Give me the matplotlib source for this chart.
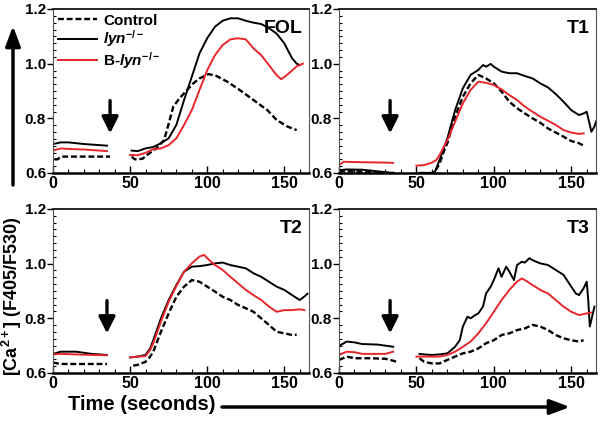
import numpy as np
import matplotlib
matplotlib.use('Agg')
import matplotlib.pyplot as plt
import matplotlib.ticker as ticker

nan = np.nan

# FOL panel
fol_ctrl_t = [1, 3, 5, 10, 20, 30, 37, nan, 51, 53, 58, 61, 67, 72, 75, 78, 82, 87, 91, 95, 101, 106, 113, 121, 130, 139, 145, 152, 158]
fol_ctrl_v = [0.65, 0.65, 0.66, 0.66, 0.66, 0.66, 0.66, nan, 0.66, 0.65, 0.652, 0.666, 0.69, 0.72, 0.78, 0.843, 0.873, 0.904, 0.928, 0.946, 0.962, 0.955, 0.934, 0.904, 0.867, 0.83, 0.794, 0.77, 0.757]
fol_lyn_t = [0, 5, 10, 20, 30, 35, nan, 51, 55, 60, 65, 70, 75, 80, 85, 90, 95, 100, 105, 110, 115, 120, 125, 130, 135, 140, 145, 150, 155, 158, 160]
fol_lyn_v = [0.706, 0.712, 0.712, 0.706, 0.702, 0.70, nan, 0.682, 0.68, 0.69, 0.695, 0.709, 0.727, 0.776, 0.867, 0.952, 1.038, 1.093, 1.135, 1.157, 1.166, 1.166, 1.157, 1.15, 1.145, 1.13, 1.11, 1.074, 1.02, 1.0, 0.995]
fol_blyn_t = [0, 5, 10, 20, 30, 35, nan, 50, 55, 60, 65, 70, 75, 80, 85, 90, 95, 100, 105, 110, 115, 120, 125, 130, 135, 140, 145, 148, 152, 155, 158, 162]
fol_blyn_v = [0.682, 0.69, 0.688, 0.686, 0.682, 0.68, nan, 0.666, 0.665, 0.674, 0.687, 0.69, 0.702, 0.727, 0.776, 0.83, 0.904, 0.976, 1.031, 1.068, 1.089, 1.093, 1.089, 1.056, 1.031, 0.995, 0.958, 0.943, 0.96, 0.975, 0.99, 1.0]

# T1 panel
t1_ctrl_t = [0, 10, 20, 30, 36, nan, 52, 60, 62, 65, 68, 70, 75, 80, 85, 90, 95, 100, 105, 110, 115, 120, 125, 130, 135, 140, 145, 150, 155, 158]
t1_ctrl_v = [0.606, 0.606, 0.604, 0.601, 0.60, nan, 0.60, 0.60, 0.605, 0.635, 0.684, 0.709, 0.806, 0.879, 0.928, 0.959, 0.946, 0.928, 0.898, 0.861, 0.837, 0.818, 0.80, 0.784, 0.763, 0.748, 0.733, 0.717, 0.709, 0.70]
t1_lyn_t = [0, 5, 15, 25, 30, 35, nan, 52, 60, 62, 65, 68, 70, 75, 80, 85, 90, 93, 95, 98, 100, 105, 110, 115, 120, 125, 130, 135, 140, 145, 150, 155, 158, 160, 162, 163, 165, 166]
t1_lyn_v = [0.61, 0.613, 0.612, 0.606, 0.603, 0.60, nan, 0.60, 0.60, 0.605, 0.648, 0.696, 0.727, 0.83, 0.91, 0.959, 0.977, 0.995, 0.989, 0.999, 0.989, 0.971, 0.965, 0.965, 0.955, 0.946, 0.928, 0.913, 0.889, 0.861, 0.83, 0.812, 0.818, 0.824, 0.776, 0.751, 0.77, 0.788]
t1_blyn_t = [0, 3, 10, 20, 30, 35, nan, 50, 55, 60, 63, 65, 70, 75, 80, 85, 90, 95, 100, 105, 110, 115, 120, 125, 130, 135, 140, 145, 150, 155, 158]
t1_blyn_v = [0.629, 0.641, 0.64, 0.639, 0.638, 0.637, nan, 0.627, 0.629, 0.638, 0.648, 0.666, 0.72, 0.788, 0.855, 0.904, 0.934, 0.93, 0.922, 0.906, 0.885, 0.867, 0.843, 0.824, 0.806, 0.791, 0.776, 0.757, 0.748, 0.743, 0.745]

# T2 panel
t2_ctrl_t = [0, 5, 15, 25, 35, nan, 52, 55, 60, 63, 65, 70, 75, 80, 85, 90, 95, 100, 105, 110, 115, 120, 125, 130, 135, 140, 145, 150, 155, 158]
t2_ctrl_v = [0.638, 0.633, 0.633, 0.633, 0.633, nan, 0.627, 0.63, 0.641, 0.66, 0.678, 0.751, 0.818, 0.879, 0.916, 0.94, 0.934, 0.916, 0.898, 0.879, 0.867, 0.849, 0.837, 0.824, 0.80, 0.776, 0.751, 0.745, 0.739, 0.74]
t2_lyn_t = [0, 5, 15, 25, 35, nan, 50, 55, 60, 63, 65, 70, 75, 80, 85, 90, 95, 100, 105, 110, 115, 120, 125, 130, 135, 140, 145, 150, 155, 160, 163, 165]
t2_lyn_v = [0.67, 0.678, 0.678, 0.67, 0.666, nan, 0.657, 0.66, 0.666, 0.69, 0.72, 0.80, 0.867, 0.922, 0.971, 0.989, 0.991, 0.995, 1.001, 1.004, 0.995, 0.989, 0.983, 0.965, 0.952, 0.934, 0.916, 0.904, 0.885, 0.867, 0.88, 0.89]
t2_blyn_t = [0, 5, 15, 25, 35, nan, 50, 55, 60, 63, 65, 70, 75, 80, 85, 90, 95, 98, 100, 105, 110, 115, 120, 125, 130, 135, 140, 145, 150, 155, 160, 163]
t2_blyn_v = [0.668, 0.67, 0.668, 0.666, 0.665, nan, 0.657, 0.66, 0.662, 0.684, 0.709, 0.788, 0.861, 0.918, 0.971, 1.001, 1.026, 1.032, 1.02, 0.995, 0.977, 0.952, 0.928, 0.904, 0.885, 0.867, 0.843, 0.824, 0.83, 0.83, 0.833, 0.83]

# T3 panel
t3_ctrl_t = [0, 5, 10, 20, 30, 35, 37, nan, 52, 55, 60, 65, 70, 75, 80, 85, 90, 95, 100, 105, 110, 115, 120, 125, 130, 135, 140, 145, 150, 155, 158]
t3_ctrl_v = [0.648, 0.66, 0.654, 0.654, 0.652, 0.645, 0.641, nan, 0.654, 0.641, 0.635, 0.635, 0.648, 0.66, 0.672, 0.678, 0.69, 0.709, 0.72, 0.739, 0.745, 0.757, 0.763, 0.776, 0.77, 0.757, 0.739, 0.727, 0.72, 0.715, 0.72]
t3_lyn_t = [0, 5, 10, 15, 25, 35, nan, 52, 55, 60, 65, 70, 75, 78, 80, 83, 85, 88, 90, 93, 95, 98, 100, 103, 105, 108, 110, 113, 115, 118, 120, 123, 125, 130, 135, 140, 145, 150, 153, 155, 158, 160, 161, 162, 163, 165]
t3_lyn_v = [0.699, 0.715, 0.712, 0.706, 0.704, 0.696, nan, 0.67, 0.668, 0.666, 0.668, 0.672, 0.696, 0.72, 0.77, 0.806, 0.80, 0.812, 0.818, 0.843, 0.891, 0.916, 0.94, 0.983, 0.952, 0.989, 0.971, 0.94, 0.995, 1.007, 1.004, 1.02, 1.013, 1.001, 0.995, 0.977, 0.959, 0.916, 0.891, 0.885, 0.91, 0.934, 0.867, 0.77, 0.794, 0.843]
t3_blyn_t = [0, 5, 10, 15, 30, 35, nan, 50, 55, 60, 65, 70, 75, 80, 85, 90, 95, 100, 105, 110, 115, 118, 120, 125, 130, 135, 140, 145, 150, 155, 160, 163]
t3_blyn_v = [0.666, 0.678, 0.676, 0.67, 0.67, 0.678, nan, 0.66, 0.66, 0.66, 0.66, 0.666, 0.678, 0.696, 0.715, 0.745, 0.782, 0.824, 0.867, 0.904, 0.934, 0.946, 0.94, 0.922, 0.904, 0.891, 0.867, 0.843, 0.824, 0.812, 0.818, 0.821]

panel_names = ['FOL', 'T1', 'T2', 'T3']
stim_t = [37, 33, 35, 33]          # time of stimulus arrow
series_labels = ['Control', r'$\mathit{lyn}^{\mathrm{-/-}}$', r'B-$\mathit{lyn}^{\mathrm{-/-}}$']
red = '#e8262b'

plt.rcParams['font.family'] = 'Liberation Sans'
plt.rcParams['font.weight'] = 'bold'
plt.rcParams['mathtext.fontset'] = 'custom'
plt.rcParams['mathtext.rm'] = 'Liberation Sans:bold'
plt.rcParams['mathtext.it'] = 'Liberation Sans:bold:italic'

data = {
    'FOL': (fol_ctrl_t, fol_ctrl_v, fol_lyn_t, fol_lyn_v, fol_blyn_t, fol_blyn_v),
    'T1': (t1_ctrl_t, t1_ctrl_v, t1_lyn_t, t1_lyn_v, t1_blyn_t, t1_blyn_v),
    'T2': (t2_ctrl_t, t2_ctrl_v, t2_lyn_t, t2_lyn_v, t2_blyn_t, t2_blyn_v),
    'T3': (t3_ctrl_t, t3_ctrl_v, t3_lyn_t, t3_lyn_v, t3_blyn_t, t3_blyn_v),
}

W, H = 601, 421
fig = plt.figure(figsize=(W/100, H/100), dpi=100)

# axes rectangles in pixels (left, top, right, bottom)
rects = [(53, 9, 309, 173), (339, 9, 596, 173), (53, 209, 309, 373), (339, 209, 596, 373)]

for k, name in enumerate(panel_names):
    l, t, r, b = rects[k]
    ax = fig.add_axes([l/W, 1 - b/H, (r - l)/W, (b - t)/H])
    ct, cv, lt, lv, bt, bv = data[name]
    ax.plot(ct, cv, color='k', lw=1.7, dashes=(2.5, 1.2), label=series_labels[0])
    ax.plot(lt, lv, color='k', lw=1.4, label=series_labels[1])
    ax.plot(bt, bv, color=red, lw=1.4, label=series_labels[2])
    ax.annotate('', xy=(stim_t[k], 0.745), xytext=(stim_t[k], 0.865),
                arrowprops=dict(arrowstyle='-|>,head_length=1.0,head_width=0.5',
                                color='k', lw=2.4, shrinkA=0, shrinkB=0))
    ax.set_xlim(0, 166)
    ax.set_ylim(0.6, 1.2)
    ax.xaxis.set_major_locator(ticker.MultipleLocator(50))
    ax.xaxis.set_minor_locator(ticker.MultipleLocator(10))
    ax.yaxis.set_major_locator(ticker.MultipleLocator(0.2))
    ax.yaxis.set_minor_locator(ticker.MultipleLocator(0.025))
    ax.yaxis.set_major_formatter(ticker.FormatStrFormatter('%.1f'))
    ax.tick_params(axis='x', which='both', direction='in', labelsize=11.5, pad=2)
    ax.tick_params(axis='x', which='major', length=5, width=1)
    ax.tick_params(axis='x', which='minor', length=3, width=0.8)
    ax.tick_params(axis='y', which='major', direction='out', length=4, width=1, labelsize=11, pad=1)
    ax.tick_params(axis='y', which='minor', direction='in', length=2, width=0.8)
    ax.spines['bottom'].set_linewidth(1.8)
    ax.spines['top'].set_linewidth(1.2)
    ax.spines['left'].set_color('#555555')
    ax.spines['left'].set_linewidth(0.8)
    ax.spines['right'].set_color('#555555')
    ax.spines['right'].set_linewidth(0.8)
    ax.text(0.975, 0.93, name, transform=ax.transAxes, ha='right', va='top',
            fontsize=14, fontweight='bold')
    if k == 0:
        ax.legend(loc='upper left', frameon=False, fontsize=11, handlelength=2.6,
                  handletextpad=0.4, labelspacing=0.05, borderaxespad=0.2,
                  borderpad=0.1)

# overlay for the axis arrows and labels
ov = fig.add_axes([0, 0, 1, 1], facecolor='none')
ov.set_xlim(0, W)
ov.set_ylim(H, 0)
ov.axis('off')
ov.annotate('', xy=(13, 26), xytext=(13, 185),
            arrowprops=dict(arrowstyle='-|>,head_length=1.2,head_width=0.45',
                            color='k', lw=2.5, shrinkA=0, shrinkB=0))
ov.text(12, 296, '[Ca$^{\\mathrm{2+}}$] (F405/F530)', rotation=90, ha='center', va='center',
        fontsize=13, fontweight='bold')
ov.text(68, 405, 'Time (seconds)', ha='left', va='center', fontsize=14.5, fontweight='bold')
ov.annotate('', xy=(570, 407), xytext=(222, 407),
            arrowprops=dict(arrowstyle='-|>,head_length=1.2,head_width=0.45',
                            color='k', lw=2.5, shrinkA=0, shrinkB=0))

fig.savefig('out.png', dpi=100)
